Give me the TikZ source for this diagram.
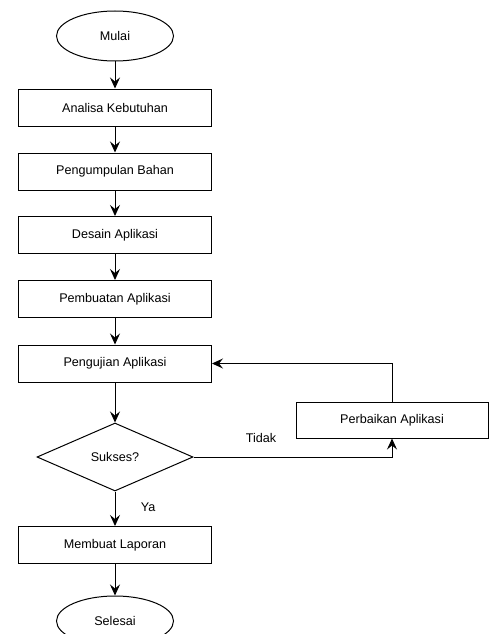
\documentclass[tikz,border=0pt]{standalone}
\usepackage{fontspec}
\setmainfont{Liberation Sans}
\usepackage{tikz}
\usetikzlibrary{arrows.meta,%
                shapes.geometric,positioning}

\begin{document}
\begin{tikzpicture}[x=1pt,y=-1pt,
  font=\fontsize{12.6}{15}\selectfont,
  line width=1pt,
  terminal/.style={draw,ellipse,minimum width=117pt,minimum height=50pt,inner sep=0pt},
  process/.style={draw,rectangle,minimum width=193pt,minimum height=37pt,inner sep=0pt},
  decision/.style={draw,diamond,minimum width=156pt,minimum height=68pt,inner sep=0pt},
  flow/.style={-{Stealth[length=11pt,width=10pt,inset=4pt]}}]
\useasboundingbox (0,0) rectangle (491,634);

\node[terminal] (mulai) at (115,36) {Mulai};
\node[process] (analisa) at (115,107.5) {Analisa Kebutuhan};
\node[process] (kumpul) at (115,171.5) {Pengumpulan Bahan};
\node[process] (desain) at (115,235) {Desain Aplikasi};
\node[process] (buat) at (115,299) {Pembuatan Aplikasi};
\node[process] (uji) at (115,363.5) {Pengujian Aplikasi};
\node[decision] (sukses) at (115,457) {Sukses?};
\node[process] (laporan) at (115,545) {Membuat Laporan};
\node[terminal] (selesai) at (115,621) {Selesai};

\node[process,minimum width=192pt,minimum height=36pt] (perbaikan) at (392,420) {Perbaikan Aplikasi};

\draw[flow] (mulai) -- (analisa);
\draw[flow] (analisa) -- (kumpul);
\draw[flow] (kumpul) -- (desain);
\draw[flow] (desain) -- (buat);
\draw[flow] (buat) -- (uji);
\draw[flow] (uji) -- (sukses);
\draw[flow] (sukses) -- node[pos=0.45,right=22pt] {Ya} (laporan);
\draw[flow] (laporan) -- (selesai);

\draw[flow] (sukses.east) -| node[pos=0.17,above=11pt] {Tidak} (perbaikan.south);
\draw[flow] (perbaikan.north) |- (uji.east);

\end{tikzpicture}
\end{document}
